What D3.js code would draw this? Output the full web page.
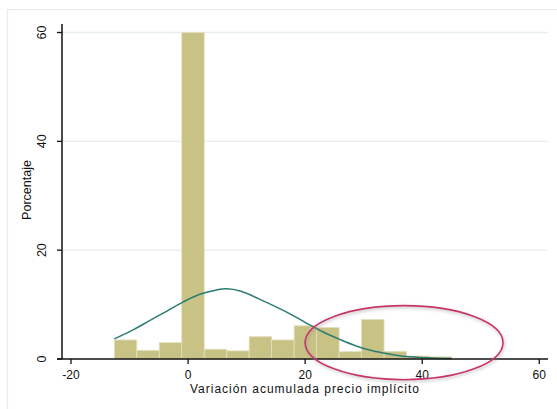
<!DOCTYPE html>
<html>
<head>
<meta charset="utf-8">
<script src="https://cdn.jsdelivr.net/npm/d3@7"></script>
<style>
  body { margin: 0; background: #fff; }
  text { font-family: "Liberation Sans", Arial, sans-serif; fill: #111; }
</style>
</head>
<body>
<svg id="chart" width="557" height="409"></svg>
<script>
// histogram bins (percent)
var binEdges = [-12.6, -8.76, -4.92, -1.08, 2.76, 6.6, 10.44, 14.28, 18.12, 21.96, 25.8, 29.64, 33.48, 37.32, 41.16, 45.0];
var binPct = [3.5, 1.6, 3.0, 60, 1.8, 1.5, 4.1, 3.5, 6.1, 5.8, 1.35, 7.25, 1.4, 0.55, 0.4];

// normal density overlay
var curveX = [-12.6, -9.3, -6.5, -3.6, -0.8, 2.0, 4.9, 6.6, 8.9, 13.4, 17.4, 20.2, 23.0, 25.9, 28.7, 31.5, 34.4, 37.2, 41.7, 45.0];
var curveY = [3.7, 5.4, 7.1, 8.8, 10.5, 11.9, 12.7, 12.9, 12.5, 10.4, 8.3, 6.6, 5.0, 3.6, 2.4, 1.5, 0.9, 0.45, 0.2, 0.1];

var xTicks = [-20, 0, 20, 40, 60];
var yTicks = [0, 20, 40, 60];

// highlighted region (data units): centre x, centre y, half width, half height
var marker = {cx: 36.9, cy: 3.0, rx: 16.9, ry: 6.8};

var svg = d3.select("#chart");

//outer frame
svg.append("rect")
    .attr("x", 7.5).attr("y", 9.5)
    .attr("width", 560).attr("height", 420)
    .attr("fill", "none")
    .attr("stroke", "#e4ecef")
    .attr("stroke-width", 1.2);

var x = d3.scaleLinear().domain([-20, 60]).range([71, 539.3]);
var y = d3.scaleLinear().domain([0, 60]).range([359, 32.5]);
var axisLeft = 62, axisRight = 548;

// grid lines
svg.append("g").selectAll("line")
    .data(yTicks.filter(d => d > 0))
    .join("line")
    .attr("x1", axisLeft).attr("x2", axisRight)
    .attr("y1", d => y(d)).attr("y2", d => y(d))
    .attr("stroke", "#e6eef0")
    .attr("stroke-width", 1.3);

// bars
svg.append("g").selectAll("rect")
    .data(binPct)
    .join("rect")
    .attr("x", (d, i) => x(binEdges[i]))
    .attr("width", (d, i) => x(binEdges[i + 1]) - x(binEdges[i]))
    .attr("y", d => y(d))
    .attr("height", d => y(0) - y(d))
    .attr("fill", "#c9c285")
    .attr("stroke", "#e2dfbf")
    .attr("stroke-width", 0.8);

// normal curve
var line = d3.line()
    .x(d => x(d[0]))
    .y(d => y(d[1]))
    .curve(d3.curveCatmullRom.alpha(0.5));

svg.append("path")
    .datum(curveX.map((v, i) => [v, curveY[i]]))
    .attr("d", line)
    .attr("fill", "none")
    .attr("stroke", "#2b7b72")
    .attr("stroke-width", 1.5);

// axes
svg.append("line")
    .attr("x1", axisLeft).attr("x2", axisLeft)
    .attr("y1", 24).attr("y2", y(0))
    .attr("stroke", "#111").attr("stroke-width", 1.5);
svg.append("line")
    .attr("x1", 57).attr("x2", axisRight)
    .attr("y1", y(0)).attr("y2", y(0))
    .attr("stroke", "#111").attr("stroke-width", 1.5);

var xg = svg.append("g");
xg.selectAll("line")
    .data(xTicks)
    .join("line")
    .attr("x1", d => x(d)).attr("x2", d => x(d))
    .attr("y1", y(0)).attr("y2", y(0) + 5)
    .attr("stroke", "#111").attr("stroke-width", 1.3);
xg.selectAll("text")
    .data(xTicks)
    .join("text")
    .attr("x", d => x(d))
    .attr("y", 379)
    .attr("text-anchor", "middle")
    .attr("font-size", 12)
    .text(d => d);

var yg = svg.append("g");
yg.selectAll("line")
    .data(yTicks)
    .join("line")
    .attr("x1", axisLeft - 5).attr("x2", axisLeft)
    .attr("y1", d => y(d)).attr("y2", d => y(d))
    .attr("stroke", "#111").attr("stroke-width", 1.3);
yg.selectAll("text")
    .data(yTicks)
    .join("text")
    .attr("transform", d => `translate(46,${y(d)}) rotate(-90)`)
    .attr("text-anchor", "middle")
    .attr("font-size", 12.5)
    .text(d => d);

// titles
svg.append("text")
    .attr("x", 190).attr("y", 393)
    .attr("font-size", 12)
    .attr("textLength", 229)
    .attr("lengthAdjust", "spacing")
    .text("Variación acumulada precio implícito");

svg.append("text")
    .attr("transform", "translate(31,190) rotate(-90)")
    .attr("text-anchor", "middle")
    .attr("font-size", 12.5)
    .text("Porcentaje");

// highlight ellipse with soft shadow
var defs = svg.append("defs");
var f = defs.append("filter").attr("id", "shadow")
    .attr("x", "-10%").attr("y", "-20%").attr("width", "120%").attr("height", "140%");
f.append("feDropShadow")
    .attr("dx", 1).attr("dy", 1.5)
    .attr("stdDeviation", 1.5)
    .attr("flood-color", "#888")
    .attr("flood-opacity", 0.6);

svg.append("ellipse")
    .attr("cx", x(marker.cx))
    .attr("cy", y(marker.cy))
    .attr("rx", x(marker.rx) - x(0))
    .attr("ry", y(0) - y(marker.ry))
    .attr("fill", "none")
    .attr("stroke", "#c8336c")
    .attr("stroke-width", 1.6)
    .attr("filter", "url(#shadow)");
</script>
</body>
</html>
